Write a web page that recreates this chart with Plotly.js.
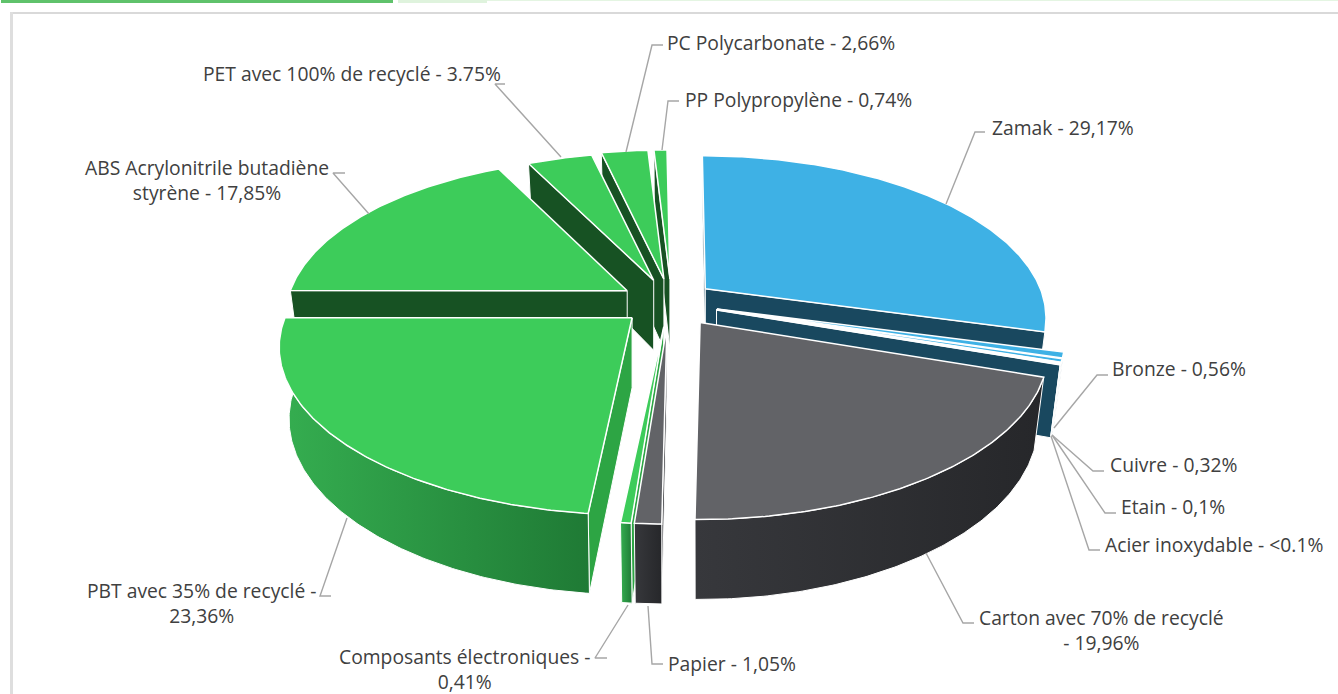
<!DOCTYPE html>
<html><head><meta charset="utf-8">
<script src="https://cdn.plot.ly/plotly-3.0.1.min.js"></script>
<style>html,body{margin:0;padding:0;background:#fff;overflow:hidden}#c{width:1338px;height:694px}</style>
</head><body><div id="c"></div>
<script>
// ---- data ----
const categories = ["Zamak","Bronze","Cuivre","Etain","Acier inoxydable","Carton avec 70% de recyclé","Papier","Composants électroniques","PBT avec 35% de recyclé","ABS Acrylonitrile butadiène styrène","PET avec 100% de recyclé","PC Polycarbonate","PP Polypropylène"];
const shares = [29.17,0.56,0.32,0.1,0.1,19.96,1.05,0.41,23.36,17.85,3.75,2.66,0.74];
const families = ["blue","blue","blue","blue","blue","grey","grey","green","green","green","green","green","green"];
const labelTexts = ["Zamak - 29,17%","Bronze - 0,56%","Cuivre - 0,32%","Etain - 0,1%","Acier inoxydable - &lt;0.1%","Carton avec 70% de recyclé<br>- 19,96%","Papier - 1,05%","Composants électroniques -<br>0,41%","PBT avec 35% de recyclé -<br>23,36%","ABS Acrylonitrile butadiène<br>styrène - 17,85%","PET avec 100% de recyclé - 3.75%","PC Polycarbonate - 2,66%","PP Polypropylène - 0,74%"];

// ---- label placement (page pixels) ----
const labelAnchors = [[1063,127],[1179,368],[1173,464],[1173,506],[1214,544],[1101,630],[732,663],[464,669],[201,603],[207,180],[352,73],[781,42],[798,99]];
const leaders = [
 [[985,132],[975,132],[946,204]],[[1108,375],[1097,375],[1054,428]],[[1104,471],[1093,471],[1052,435]],
 [[1116,513],[1105,513],[1052,435]],[[1100,550],[1089,550],[1051,436]],[[974,623],[963,623],[926,553]],
 [[663,664],[652,664],[648,606]],[[607,658],[595,658],[628,605]],[[331,596],[320,596],[347,518]],
 [[345,173],[333,173],[369,214]],[[505,84],[495,84],[561,157]],[[663,45],[652,45],[626,152]],[[679,101],[668,101],[662,150]]];

// ---- projection of the exploded, tilted pie ----
const G = {cx:669, cy:304, ex:47, ey:25, rx:342, ry:158.8, px:0.18, py:0.194, d0:70, pd:0.125, shrink:0.028, lean:3};
// per-slice fine fit of the drawing: [dx, dy, x scale, y scale]
const sliceFit = [[-1,0,0.98,1],[3,-2,1,1],[3,-2,1,1],[3,-2,1,1],[3,-2,1,1],[4,-2,1,1],[0,-2,1,1],[-1,-2,1,1],[-2,-3,1.015,1],[-2,0,0.985,1],[0,0,0.96,0.96],[1,0,0.97,0.97],[2,0,0.97,0.97]];
const palette = {
 blue:{top:"#3eb1e5",cutBack:"#19485f",cutFront:"#19485f",arc:["#19485f","#19485f"]},
 grey:{top:"#626367",cutBack:"#2a2b2d",cutFront:"#37383c",arc:["#37383c","#26272a"]},
 green:{top:"#3dcc5a",cutBack:"#175223",cutFront:"#2da544",arc:["#35ae50","#1f7a35"]}
};
function pt(s, th, r, z){
  const u=Math.sin(th)*r, v=-Math.cos(th)*r;
  const sx=G.rx*u/(1-G.px*v)*(1-G.shrink*z)+G.lean*Math.min(v,0);
  const sy=G.ry*v/(1-G.py*v);
  return [s.apex[0]+sx*s.fit[2], s.apex[1]+sy*s.fit[3]+z*G.d0/(1-G.pd*v)];
}
function arc(s,a,b,z){const o=[];const n=Math.max(2,Math.ceil((b-a)/0.01));for(let i=0;i<=n;i++)o.push(pt(s,a+(b-a)*i/n,1,z));return o;}
function trace(name,poly,opts){
  const t={type:"scatter",mode:"lines",name:name,x:poly.map(p=>p[0]),y:poly.map(p=>p[1]),fill:"toself",
    line:{color:opts.line||"#ffffff",width:opts.width==null?1.5:opts.width},hoverinfo:"name",showlegend:false};
  if(opts.gradient)t.fillgradient={type:"horizontal",colorscale:[[0,opts.gradient[0]],[1,opts.gradient[1]]]};
  else t.fillcolor=opts.fill;
  return t;
}
const total=shares.reduce((a,b)=>a+b,0);
let run=0;
const slices=categories.map((name,i)=>{
  const a=run/total*2*Math.PI; run+=shares[i]; const b=run/total*2*Math.PI; const m=(a+b)/2;
  const fit=sliceFit[i];
  return {name,a,b,fit,v:-Math.cos(m),fam:palette[families[i]],apex:[G.cx+G.ex*Math.sin(m)+fit[0],G.cy-G.ey*Math.cos(m)+fit[1]]};
});
const traces=[];
function radialWall(s,th){
  const col=(th>=1.5*Math.PI-0.001)?s.fam.cutBack:s.fam.cutFront;
  const z0=pt(s,th,0,0),z1=pt(s,th,0,1);
  traces.push(trace(s.name,[z0,pt(s,th,1,0),pt(s,th,1,1),z1,z0],{fill:col,width:1}));
}
slices.slice().sort((p,q)=>p.v-q.v).forEach(s=>{
  if(Math.sin(s.a)<=1e-6) radialWall(s,s.a);   // start edge faces the viewer
  if(Math.sin(s.b)>0) radialWall(s,s.b);       // end edge faces the viewer
  const f0=Math.max(s.a,Math.PI/2),f1=Math.min(s.b,1.5*Math.PI);
  if(s.a>=Math.PI/2 && f1>f0){
    const up=arc(s,f0,f1,0),down=arc(s,f0,f1,1).reverse();
    traces.push(trace(s.name,up.concat(down,[up[0]]),{gradient:s.fam.arc,width:1}));
  }
  const top=[s.apex].concat(arc(s,s.a,s.b,0),[s.apex]);
  traces.push(trace(s.name,top,{fill:s.fam.top,width:1.5}));
});
leaders.forEach(l=>traces.push({type:"scatter",mode:"lines",x:l.map(p=>p[0]),y:l.map(p=>p[1]),
  line:{color:"#a6a6a6",width:1.4},hoverinfo:"skip",showlegend:false}));

const annotations=labelTexts.map((t,i)=>({x:labelAnchors[i][0],y:labelAnchors[i][1],xref:"x",yref:"y",text:t,showarrow:false,
  xanchor:"center",yanchor:"middle",align:"center",font:{family:"Open Sans, sans-serif",size:19.3,color:"#404040"}}));

const rect=(x0,y0,x1,y1,c)=>({type:"rect",xref:"x",yref:"y",x0,y0,x1,y1,fillcolor:c,line:{width:0},layer:"below"});
const layout={width:1338,height:694,margin:{l:0,r:0,t:0,b:0},paper_bgcolor:"#ffffff",plot_bgcolor:"#ffffff",showlegend:false,
  xaxis:{visible:false,range:[0,1338],fixedrange:true},yaxis:{visible:false,range:[694,0],fixedrange:true},
  annotations,
  shapes:[rect(1,0,393,3,"#5fc26b"),rect(398,0,487,3,"#dff3dd"),rect(487,0,1338,1,"#e4f5e2"),
          rect(10,12,1338,14,"#d9d9d9"),rect(10,12,13,694,"#dedede")]};
Plotly.newPlot("c",traces,layout,{displayModeBar:false});
</script></body></html>
